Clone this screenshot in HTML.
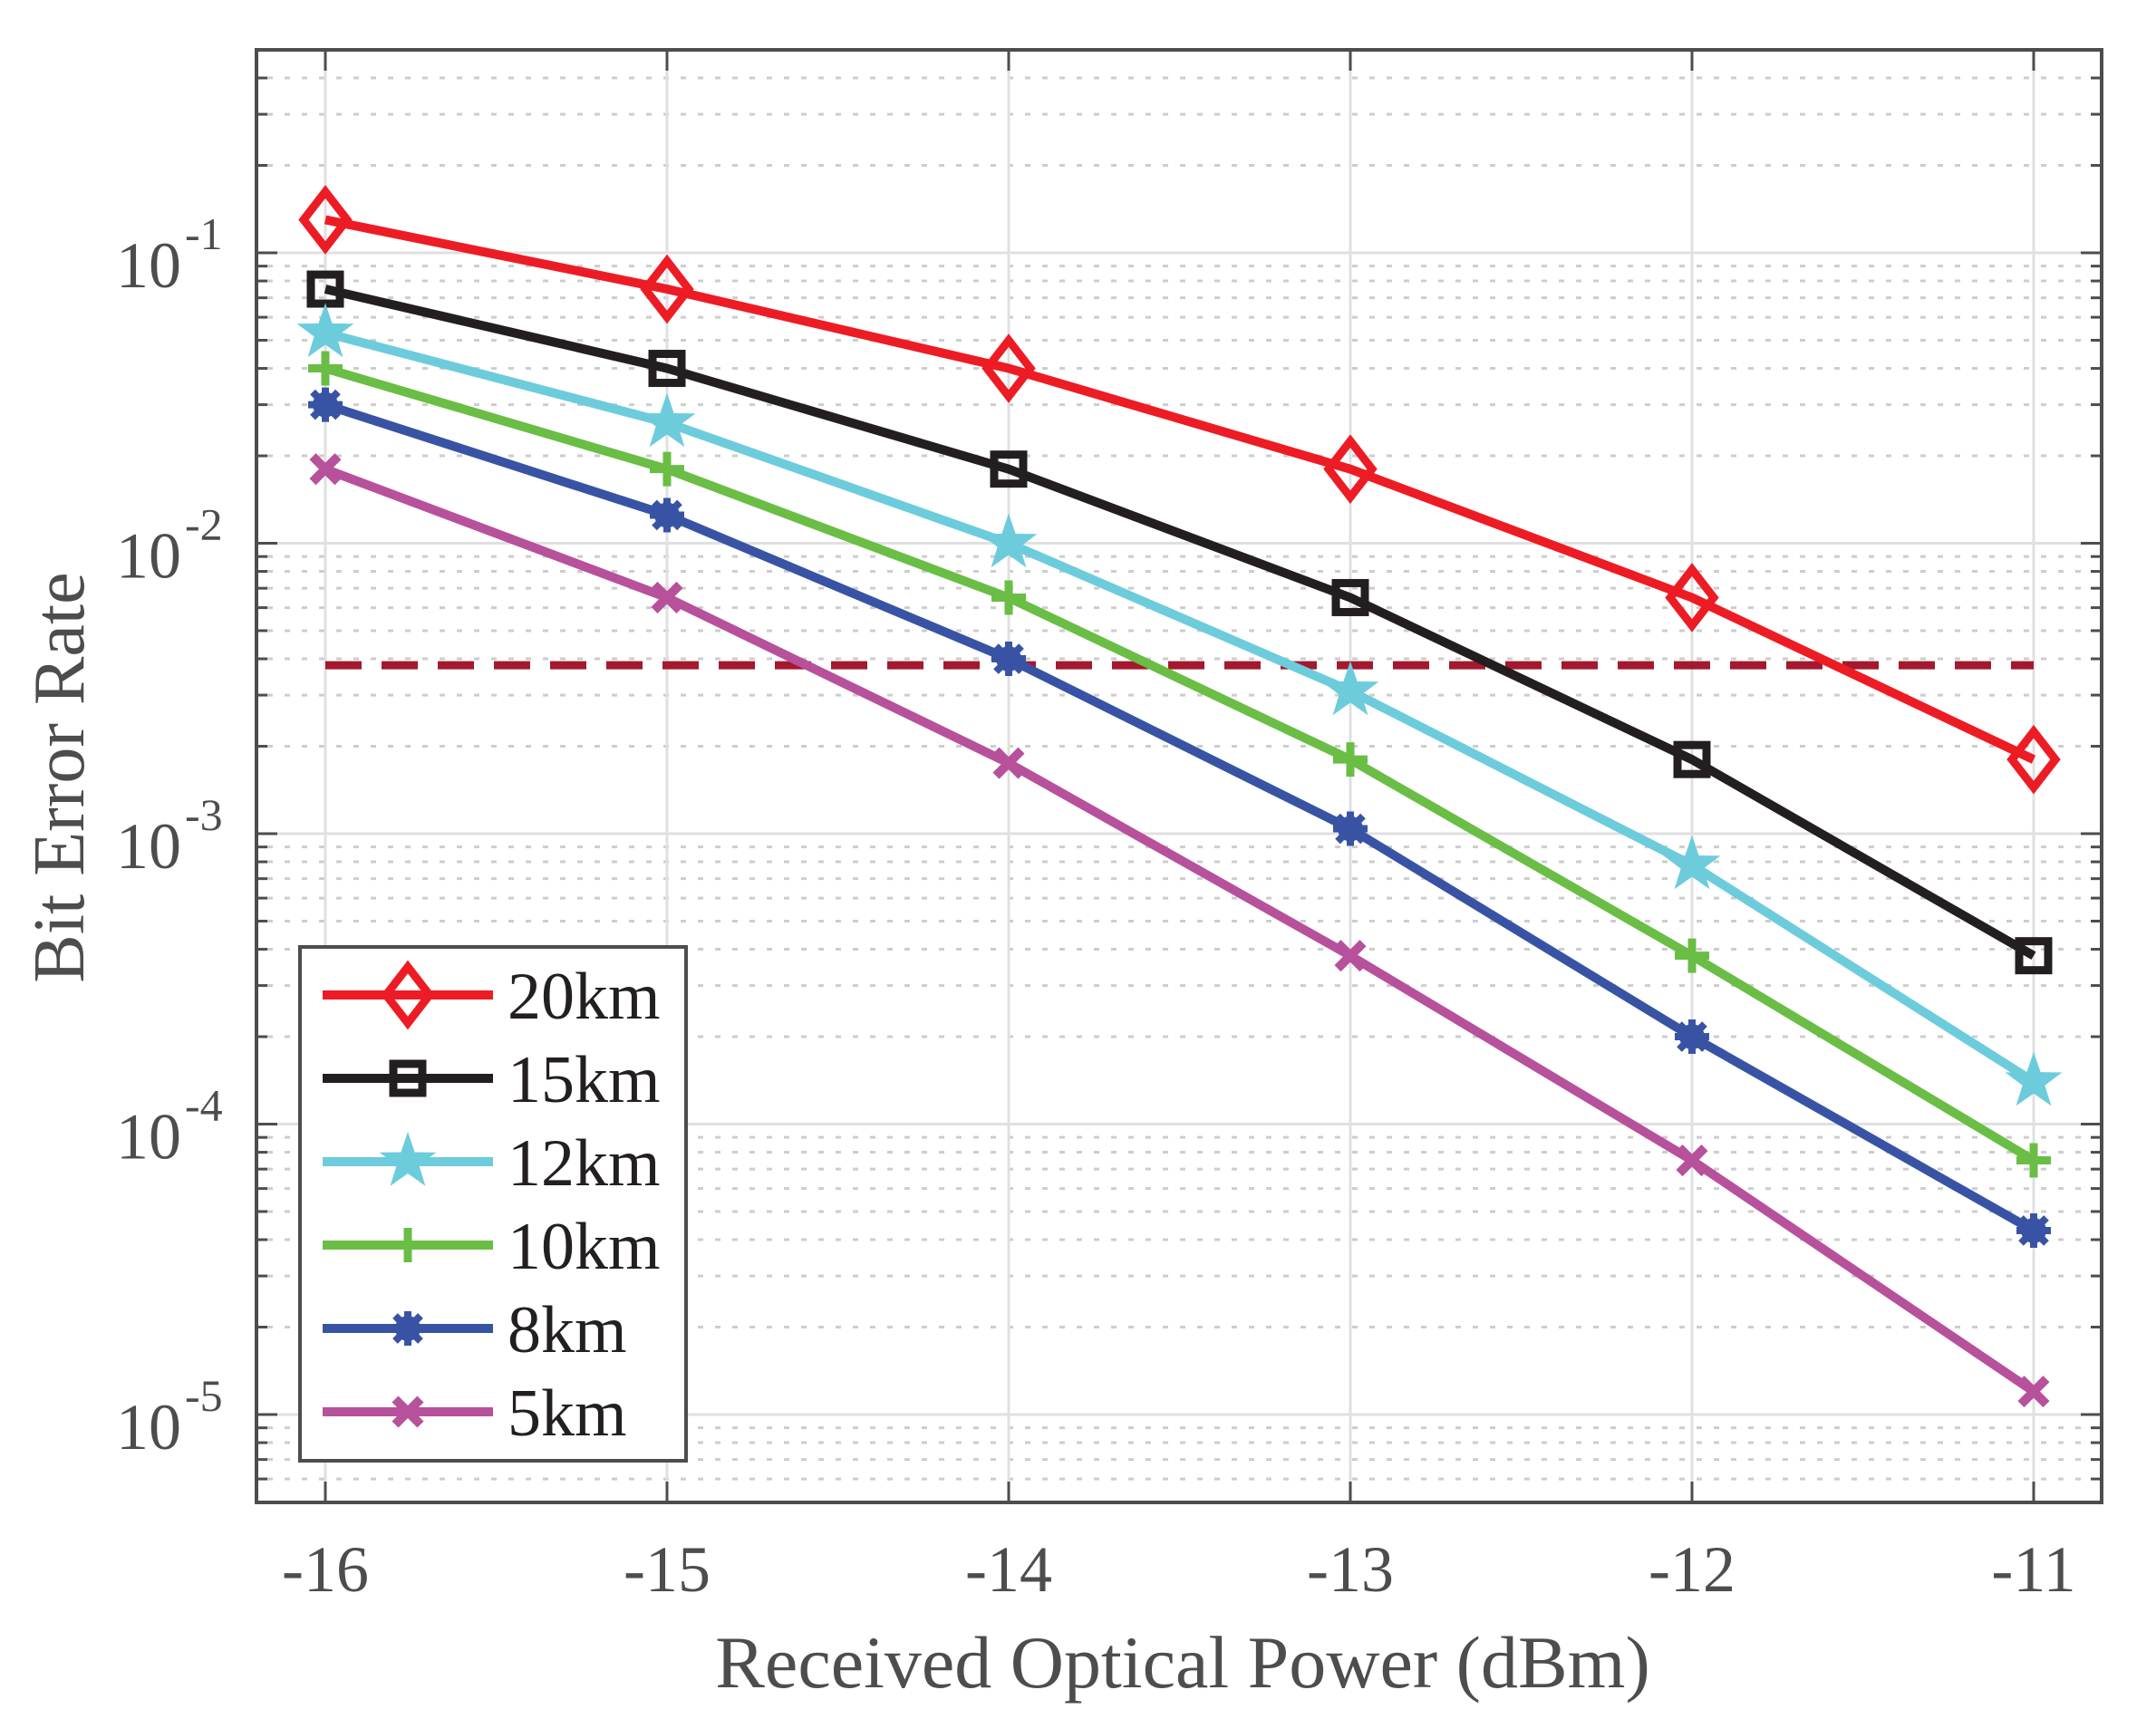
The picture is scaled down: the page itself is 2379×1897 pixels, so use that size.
<!DOCTYPE html>
<html><head><meta charset="utf-8"><style>
html,body{margin:0;padding:0;background:#fff;}
svg{display:block;}
</style></head><body>
<svg id="c" width="2379" height="1897" xmlns="http://www.w3.org/2000/svg" font-family="Liberation Serif, serif"></svg>
<script>
const s=document.getElementById('c');
const L=283,R=2319,T=55,B=1658;
const X=v=>359+(v+16)*377;
const Y=v=>279+(-1-Math.log10(v))*320.5;
let h='';
for(let d=-6;d<=0;d++){for(let m=2;m<=9;m++){const v=m*Math.pow(10,d);const y=Y(v);if(y<T+2||y>B-2)continue;
h+=`<line x1="${L+12}" x2="${R-12}" y1="${y}" y2="${y}" stroke="#cdcdcd" stroke-width="3" stroke-dasharray="6 13"/>`;
h+=`<line x1="${L}" x2="${L+12}" y1="${y}" y2="${y}" stroke="#4d4d4f" stroke-width="3"/><line x1="${R-12}" x2="${R}" y1="${y}" y2="${y}" stroke="#4d4d4f" stroke-width="3"/>`;}}
for(let e=-5;e<=-1;e++){const y=Y(Math.pow(10,e));
h+=`<line x1="${L}" x2="${R}" y1="${y}" y2="${y}" stroke="#e0e0e2" stroke-width="3"/>`;
h+=`<line x1="${L}" x2="${L+23}" y1="${y}" y2="${y}" stroke="#4d4d4f" stroke-width="3"/><line x1="${R-23}" x2="${R}" y1="${y}" y2="${y}" stroke="#4d4d4f" stroke-width="3"/>`;
h+=`<text x="${200}" y="${y+38}" font-size="72" fill="#4d4d4f" text-anchor="end">10</text><text x="${204}" y="${y-4}" font-size="50" fill="#4d4d4f">-${-e}</text>`;}
for(let i=0;i<6;i++){const x=X(-16+i);
h+=`<line x1="${x}" x2="${x}" y1="${T}" y2="${B}" stroke="#e0e0e2" stroke-width="3"/>`;
h+=`<line x1="${x}" x2="${x}" y1="${T}" y2="${T+23}" stroke="#4d4d4f" stroke-width="3"/><line x1="${x}" x2="${x}" y1="${B-23}" y2="${B}" stroke="#4d4d4f" stroke-width="3"/>`;
h+=`<text x="${x}" y="1756" font-size="72" fill="#4d4d4f" text-anchor="middle">${-16+i}</text>`;}
h+=`<line x1="${X(-16)}" x2="${X(-11)}" y1="${Y(3.8e-3)}" y2="${Y(3.8e-3)}" stroke="#a3192f" stroke-width="9" stroke-dasharray="40 22"/>`;
function mk(t,x,y,c){
 if(t=='d')return `<path d="M${x} ${y-31}L${x+24} ${y}L${x} ${y+31}L${x-24} ${y}Z" fill="none" stroke="${c}" stroke-width="9"/>`;
 if(t=='s')return `<rect x="${x-16}" y="${y-16}" width="32" height="32" fill="none" stroke="${c}" stroke-width="9"/>`;
 if(t=='p'){let p='';for(let k=0;k<10;k++){const r=k%2?13:33,a=-Math.PI/2+k*Math.PI/5;p+=(k?'L':'M')+(x+r*Math.cos(a)).toFixed(1)+' '+(y+r*Math.sin(a)).toFixed(1);}return `<path d="${p}Z" fill="${c}"/>`;}
 if(t=='+')return `<path d="M${x-19} ${y}H${x+19}M${x} ${y-19}V${y+19}" stroke="${c}" stroke-width="9"/>`;
 if(t=='*')return `<circle cx="${x}" cy="${y}" r="14" fill="${c}"/><path d="M${x-19} ${y}H${x+19}M${x} ${y-19}V${y+19}M${x-14} ${y-14}L${x+14} ${y+14}M${x-14} ${y+14}L${x+14} ${y-14}" stroke="${c}" stroke-width="8"/>`;
 if(t=='x')return `<path d="M${x-14} ${y-14}L${x+14} ${y+14}M${x-14} ${y+14}L${x+14} ${y-14}" stroke="${c}" stroke-width="10"/>`;
}
const S=[
['20km','#ed1c24','d',[0.13,0.075,0.04,0.018,0.0065,0.0018]],
['15km','#231f20','s',[0.075,0.04,0.018,0.0065,0.0018,0.00038]],
['12km','#6dccdc','p',[0.053,0.026,0.010,0.0031,0.00078,0.00014]],
['10km','#6abd45','+',[0.04,0.018,0.0065,0.0018,0.00038,7.5e-5]],
['8km','#3953a4','*',[0.03,0.0125,0.004,0.00104,0.0002,4.3e-5]],
['5km','#b7519b','x',[0.018,0.0065,0.00175,0.00038,7.5e-5,1.2e-5]]];
for(const [n,c,t,d] of S){const pts=d.map((v,i)=>X(-16+i).toFixed(1)+','+Y(v).toFixed(1)).join(' ');
h+=`<polyline points="${pts}" fill="none" stroke="${c}" stroke-width="10" stroke-linejoin="round"/>`;
d.forEach((v,i)=>h+=mk(t,X(-16+i),Y(v),c));}
h+=`<rect x="${L}" y="${T}" width="${R-L}" height="${B-T}" fill="none" stroke="#4d4d4f" stroke-width="4"/>`;
h+=`<rect x="331" y="1045" width="426" height="567" fill="#fff" stroke="#4d4d4f" stroke-width="4"/>`;
S.forEach(([n,c,t],i)=>{const y=1098+i*92;
h+=`<line x1="356" x2="544" y1="${y}" y2="${y}" stroke="${c}" stroke-width="10"/>`+mk(t,450,y,c)+
`<text x="560" y="${y+26}" font-size="74" fill="#231f20">${n}</text>`;});
h+=`<text x="1305" y="1862" font-size="82" fill="#4d4d4f" text-anchor="middle">Received Optical Power (dBm)</text>`;
h+=`<text transform="translate(92,858) rotate(-90)" font-size="80" fill="#4d4d4f" text-anchor="middle">Bit Error Rate</text>`;
s.innerHTML=h;
</script>
</body></html>
